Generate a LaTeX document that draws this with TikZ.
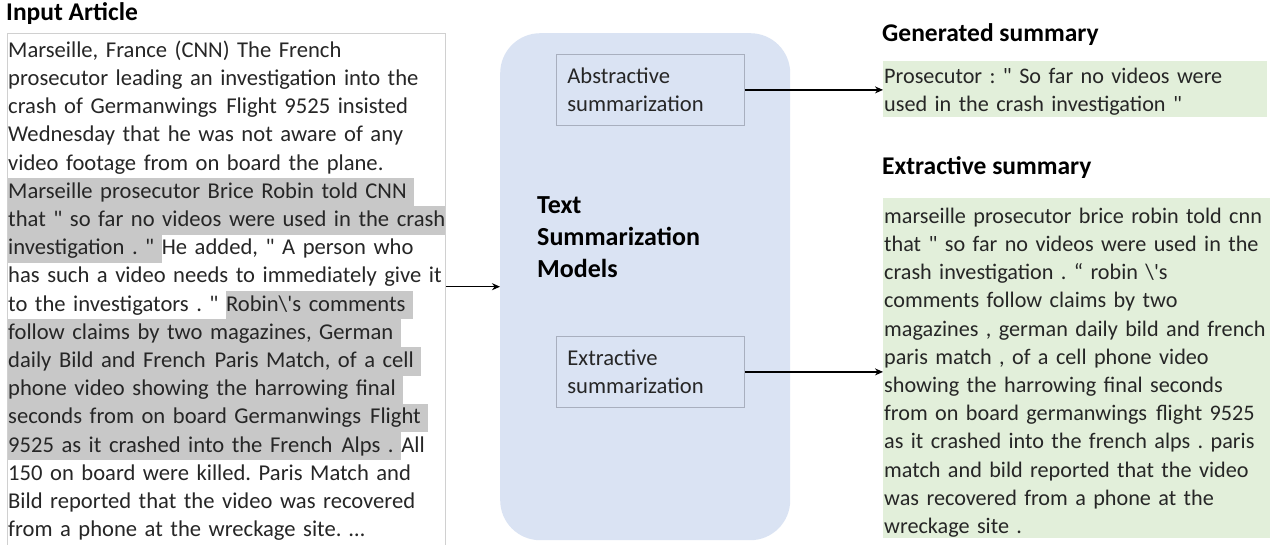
\documentclass[tikz,border=0pt]{standalone}
\usepackage{fontspec}
\setmainfont{Carlito}[Ligatures=TeXOff]
\usetikzlibrary{arrows.meta}
\definecolor{txt}{HTML}{262626}
\definecolor{hlgray}{HTML}{C8C8C8}
\definecolor{modelblue}{HTML}{DAE3F3}
\definecolor{boxedge}{HTML}{A8AFBE}
\definecolor{sumgreen}{HTML}{E2EFDA}
\definecolor{inedge}{HTML}{D0D0D0}
\setlength{\parindent}{0pt}
\frenchspacing
\newcommand\lst{\rule[-8.2pt]{0pt}{28.2pt}}
\newcommand\mst{\rule[-10pt]{0pt}{32pt}}
\newcommand\hl[1]{{\setlength{\fboxsep}{0pt}\colorbox{hlgray}{\lst#1}}}
\newcommand\wsp{\hspace{0.4em}}
\begin{document}
\begin{tikzpicture}[x=1pt,y=-1pt,
  title/.style={anchor=base west, inner sep=0, font=\fontsize{25.5}{30}\selectfont\bfseries, text=black},
  body/.style={anchor=north west, inner sep=0, align=left, text width=480pt, font=\fontsize{22.6}{28.2}\selectfont, text=txt},
  rbody/.style={body, font=\fontsize{22.2}{28.2}\selectfont},
  arr/.style={-{Stealth[length=8pt,width=7pt]}, line width=1.2pt, black},
  method/.style={draw=boxedge, line width=0.8pt, fill=modelblue, minimum width=188pt, minimum height=71pt, anchor=north west, inner xsep=11pt, text width=166pt, align=left, font=\fontsize{22.6}{28}\selectfont, text=txt},
  greenbox/.style={fill=sumgreen, anchor=north west, inner sep=0}]
\fill[white] (0,0) rectangle (1270,544);
\useasboundingbox (0,0) rectangle (1270,544);

% input article
\node[title] (intitle) at (6,20) {Input Article};
\node[draw=inedge, line width=1pt, minimum width=438pt, minimum height=540pt, anchor=north west] (input) at (7,33) {};
\node[body] (intext) at (8,37) {%
\lst Marseille, France (CNN) The French\\
\lst prosecutor leading an investigation into the\\
\lst crash of Germanwings\wsp Flight 9525 insisted\\
\lst Wednesday that he was not aware of any\\
\lst video footage from on board the plane.\\
\hl{Marseille prosecutor Brice Robin told CNN\ }\\
\hl{that " so far no videos were used in the crash}\\
\hl{investigation . "\ }He added, " A person who\\
\lst has such a video needs to immediately give it\\
\lst to the investigators . " \hl{Robin\textbackslash's comments\ }\\
\hl{follow claims by two magazines, German\ }\\
\hl{daily Bild and French\wsp Paris Match, of a cell\ }\\
\hl{phone video showing the harrowing final\ }\\
\hl{seconds from on board Germanwings\wsp Flight\ }\\
\hl{9525 as it crashed into the French\wsp Alps .\ }All\\
\lst 150 on board were killed. Paris Match and\\
\lst Bild reported that the video was recovered\\
\lst from a phone at the wreckage site. …};

% models
\node[fill=modelblue, rounded corners=40pt, minimum width=290pt, minimum height=507pt, anchor=north west] (models) at (500,33) {};
\node[anchor=north west, inner sep=0, align=left, text width=220pt, font=\fontsize{26}{32}\selectfont\bfseries, text=black] (mtitle) at (537,191) {\mst Text\\\mst Summarization\\\mst Models};
\node[method] (abs) at (556,54) {Abstractive\\summarization};
\node[method] (ext) at (556,336) {Extractive\\summarization};

% generated summary
\node[title] (gentitle) at (882,41) {Generated summary};
\node[greenbox, minimum width=384pt, minimum height=56pt] (gen) at (883,61) {};
\node[rbody, text width=400pt] (gentext) at (884,63) {\lst Prosecutor : " So far no videos were\\
\lst used in the crash investigation "};

% extractive summary
\node[title] (extitle) at (882,174) {Extractive summary};
\node[greenbox, minimum width=400pt, minimum height=340pt] (exsum) at (883,198) {};
\node[rbody] (extext) at (884,203) {%
\lst marseille prosecutor brice robin told cnn\\
\lst that " so far no videos were used in the\\
\lst crash investigation . “ robin \textbackslash's\\
\lst comments follow claims by two\\
\lst magazines , german daily bild and french\\
\lst paris match , of a cell phone video\\
\lst showing the harrowing final seconds\\
\lst from on board germanwings\wsp flight 9525\\
\lst as it crashed into the french alps . paris\\
\lst match and bild reported that the video\\
\lst was recovered from a phone at the\\
\lst wreckage site .};

% connectors
\draw[arr] (input.east |- models.west) -- (models.west);
\draw[arr] (abs.east) -- (abs.east -| gen.west);
\draw[arr] (ext.east) -- (ext.east -| exsum.west);
\end{tikzpicture}
\end{document}
